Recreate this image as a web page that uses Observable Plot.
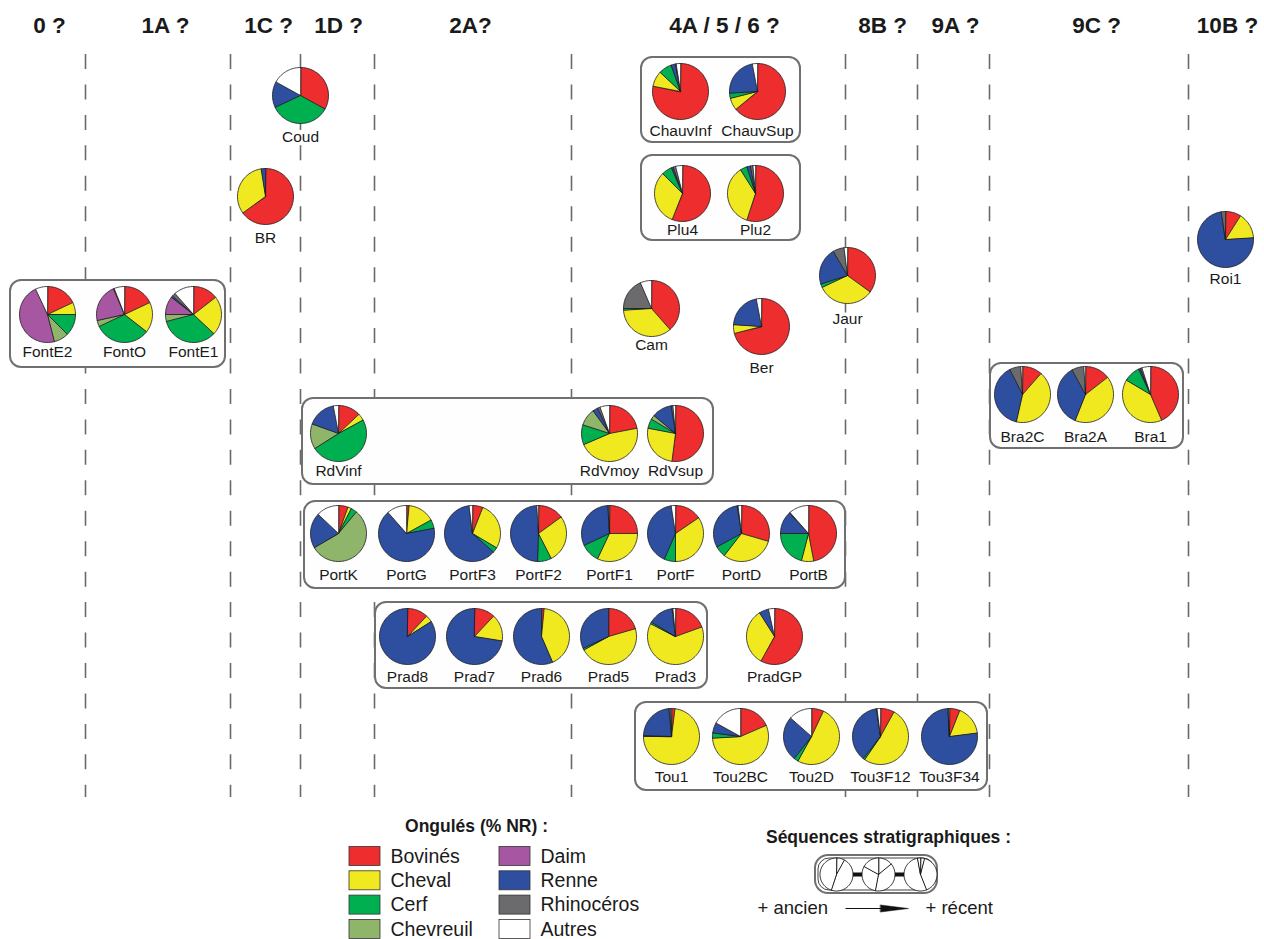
<!DOCTYPE html>
<html><head><meta charset="utf-8">
<script src="https://cdn.jsdelivr.net/npm/d3@7"></script>
<script src="https://cdn.jsdelivr.net/npm/@observablehq/plot@0.6"></script>
<style>html,body{margin:0;padding:0;background:#fff;overflow:hidden} svg{display:block}</style>
</head><body><div id="chart"></div>
<script>
// ---------- DATA ----------
const categories = ["Bovinés","Cheval","Cerf","Chevreuil","Daim","Renne","Rhinocéros","Autres"];
const colors = ["#ED2D2E","#F1E920","#00B050","#8FB56A","#A756A1","#2E4F9F","#6B6B6D","#FFFFFF"];

const sites = ["Coud","BR","ChauvInf","ChauvSup","Plu4","Plu2","FontE2","FontO","FontE1","Cam","Ber","Jaur","Roi1",
  "Bra2C","Bra2A","Bra1","RdVinf","RdVmoy","RdVsup",
  "PortK","PortG","PortF3","PortF2","PortF1","PortF","PortD","PortB",
  "Prad8","Prad7","Prad6","Prad5","Prad3","PradGP",
  "Tou1","Tou2BC","Tou2D","Tou3F12","Tou3F34"];

// % NR per site (same order as sites)
const bovines    = [33,65,78,64,56,55,18,18,14.5,38.5,71,35,9, 11.5,14.5,43.5, 13,22,52, 5.5,1.5,6,15,25,15.5,29.5,47, 12,12,1.5,20.5,19.5,58, 2,18.5,7,8,6];
const cheval     = [0,32.5,9,7,31.5,36,7,17.5,22.5,35.5,5,33,15, 42,41.5,40, 4,46.5,26, 2,15.5,27.5,27.5,32,34.5,31,7, 4,15.5,42,46.5,63,33, 73,55.5,51,51.5,17];
const cerf       = [35,0,7.5,3,6,4,12.5,32.5,34,1,0,2,0, 0,0,9.5, 49,11.5,5.5, 3.5,5,3,8,11,6.5,6.5,21, 0,0,0,1,1,0, 0.5,3,2.5,1,0];
const chevreuil  = [0,0,0,0,0,0,8.5,3.5,4,0,0,0,0, 0,0,0, 14.5,10,2.5, 55.5,0,0,0,0,0,0,0, 0,0,0,0,0,0, 0,0,0,0,0];
const daim       = [0,0,0,0,0,0,47,22,10.5,0,0,0,0, 0,0,0, 0,0,0, 0,0,0,0,0,0,0,0, 0,0,0,0,0,0, 0,0,0,0,0];
const renne      = [15,2.5,2.5,23,1,2,0,0,1,0,21,21.5,73.5, 39,36,1, 16.5,3,11.5, 20.5,66.5,61.5,48.5,31,41,30.5,13, 84,72.5,56.5,32,14.5,5.5, 23,6,26,37,76];
const rhinoceros = [0,0,0.5,0,1.5,1.5,0,0.5,2,18.5,0,6.5,2.5, 6.5,7,1, 0,1.5,1, 0,0,0,0,0.5,0,0.5,0.5, 0,0,0,0,0.5,0, 1,0,0,0.5,0.5];
const autres     = [17,0,2.5,3,4,1.5,7,6,11.5,6.5,3,2,0, 1,1,5, 3,5.5,1.5, 13,11.5,2,1,0.5,2.5,2,11.5, 0,0,0,0,1.5,3.5, 0.5,17,13.5,2,0.5];

const headers = ["0 ?","1A ?","1C ?","1D ?","2A?","4A / 5 / 6 ?","8B ?","9A ?","9C ?","10B ?"];
const seqTitle = "Séquences stratigraphiques :";
const legendTitle = "Ongulés (% NR) :";
// schematic pies of the "stratigraphic sequence" key
const seqExample = [[8,47,45],[14,39,30,17],[4,40,53,3]];

// ---------- LAYOUT ----------
const siteX = [300,265,680,757,682,755,47,124,193,651,761,847,1225, 1022,1085,1150, 338,609,675,
  338,406,472,538,609,675,741,808, 407,474,541,608,675,774, 671,740,811,880,949];
const siteY = [95,196,91,91,193,193,314,314,314,308,326,275,239, 394,394,394, 433,433,433,
  533,533,533,533,533,533,533,533, 636,636,636,636,636,636, 736,736,736,736,736];
const labelDy = [42,42,40,40,37,37,38,38,38,37,42,44,40, 43,43,43, 38,38,38,
  42,42,42,42,42,42,42,42, 41,41,41,41,41,41, 41,41,41,41,41];
const headerX = [49,165,268,338,470,724,882,955,1096,1227];
const lineX = [85,230,300,374,571,845,917,989,1188];
const boxes = [
  {x1:641,x2:800,y1:57,y2:142},{x1:641,x2:800,y1:155,y2:240},{x1:10,x2:225,y1:280,y2:367},
  {x1:990,x2:1183,y1:363,y2:448},{x1:302,x2:713,y1:398,y2:484},{x1:304,x2:845,y1:501,y2:588},
  {x1:375,x2:707,y1:602,y2:688},{x1:635,x2:987,y1:702,y2:790}
];
const R = 28;

// ---------- BUILD ----------
const series = [bovines,cheval,cerf,chevreuil,daim,renne,rhinoceros,autres];
function pieSlices(id, vals, cx, cy, r, catOf) {
  const out = [];
  const total = d3.sum(vals);
  let a0 = 0;
  vals.forEach((v, k) => {
    if (!v) return;
    const a1 = a0 + v / total * 2 * Math.PI;
    const key = id + "-" + k, cat = catOf(k);
    out.push({key, cat, x: cx, y: cy});
    const n = Math.max(2, Math.ceil((a1 - a0) / (Math.PI / 60)));
    for (let j = 0; j <= n; j++) {
      const a = a0 + (a1 - a0) * j / n;
      out.push({key, cat, x: cx + r * Math.sin(a), y: cy - r * Math.cos(a)});
    }
    a0 = a1;
  });
  return out;
}
const slices = [];
sites.forEach((s, i) => {
  slices.push(...pieSlices(s, series.map(a => a[i]), siteX[i], siteY[i], R, k => categories[k]));
});
const siteLabels = sites.map((s, i) => ({s, x: siteX[i], y: siteY[i] + labelDy[i]}));
const headerData = headers.map((h, i) => ({h, x: headerX[i], y: 25}));
const rules = lineX.map(x => ({x, y1: 54, y2: 797}));

// legend
const legItems = categories.map((c, i) => {
  const col = i < 4 ? 0 : 1, row = i % 4;
  const sx = col === 0 ? 349 : 499;
  const sy = 856 + row * 24.3;
  return {c, x1: sx, x2: sx + 31, y1: sy - 9.5, y2: sy + 9.5, tx: sx + 41, ty: sy};
});
// stratigraphic-sequence key
const seqX = [836, 878, 920], seqY = 874, seqR = 16.5;
const seqSlices = [];
seqExample.forEach((vals, i) => seqSlices.push(...pieSlices("seq" + i, vals, seqX[i], seqY, seqR, k => "w")));
const seqLink = [{x1: seqX[0], x2: seqX[2], y: seqY}];
const arrowHead = [{x: 880, y: 904.5},{x: 908, y: 908},{x: 880, y: 911.5}];

const chart = Plot.plot({
  width: 1264, height: 939, margin: 0,
  x: {domain: [0, 1264], range: [0, 1264], axis: null},
  y: {domain: [0, 939], range: [0, 939], axis: null},
  color: {type: "ordinal", domain: categories, range: colors},
  style: {fontFamily: "'Liberation Sans', Arial, Helvetica, sans-serif", background: "white", color: "#1a1a1a"},
  marks: [
    Plot.ruleX(rules, {x: "x", y1: "y1", y2: "y2", stroke: "#6a6a6a", strokeWidth: 1.6, strokeDasharray: "15,15.45"}),
    Plot.rect(boxes, {x1: "x1", x2: "x2", y1: "y1", y2: "y2", rx: 11, fill: "#fefefe", stroke: "#707070", strokeWidth: 2}),
    Plot.line(slices, {x: "x", y: "y", z: "key", fill: "cat", stroke: "#1a1a1a", strokeWidth: 0.8, curve: "linear-closed"}),
    Plot.text(siteLabels, {x: "x", y: "y", text: "s", fontSize: 15.5, fill: "#1a1a1a"}),
    Plot.text(headerData, {x: "x", y: "y", text: "h", fontSize: 22.5, fontWeight: "bold", fill: "#1a1a1a"}),
    // legend
    Plot.text([legendTitle], {x: 476, y: 826, text: d => d, fontSize: 17.5, fontWeight: "bold", fill: "#1a1a1a"}),
    Plot.rect(legItems, {x1: "x1", x2: "x2", y1: "y1", y2: "y2", fill: "c", stroke: "#333", strokeWidth: 0.8}),
    Plot.text(legItems, {x: "tx", y: "ty", text: "c", textAnchor: "start", fontSize: 19.5, fill: "#1a1a1a"}),
    Plot.text([seqTitle], {x: 888, y: 837, text: d => d, fontSize: 17.5, fontWeight: "bold", fill: "#1a1a1a"}),
    Plot.rect([{x1: 815, x2: 937, y1: 855, y2: 893}], {x1: "x1", x2: "x2", y1: "y1", y2: "y2", rx: 13, fill: "white", stroke: "#707070", strokeWidth: 2}),
    Plot.rect([{x1: 818, x2: 934, y1: 858, y2: 890}], {x1: "x1", x2: "x2", y1: "y1", y2: "y2", rx: 11, fill: "none", stroke: "#111", strokeWidth: 0.8}),
    Plot.link(seqLink, {x1: "x1", x2: "x2", y1: "y", y2: "y", stroke: "#111", strokeWidth: 4}),
    Plot.line(seqSlices, {x: "x", y: "y", z: "key", fill: "white", stroke: "#111", strokeWidth: 0.9, curve: "linear-closed"}),
    Plot.text(["+ ancien"], {x: 757, y: 908, text: d => d, textAnchor: "start", fontSize: 18.5, fill: "#1a1a1a"}),
    Plot.text(["+ récent"], {x: 925, y: 908, text: d => d, textAnchor: "start", fontSize: 18.5, fill: "#1a1a1a"}),
    Plot.link([{x1: 845, x2: 885, y: 908}], {x1: "x1", x2: "x2", y1: "y", y2: "y", stroke: "#111", strokeWidth: 1.2}),
    Plot.line(arrowHead, {x: "x", y: "y", fill: "#111", stroke: "#111", strokeWidth: 0.5, curve: "linear-closed"})
  ]
});
document.getElementById("chart").appendChild(chart);
</script>
</body></html>
